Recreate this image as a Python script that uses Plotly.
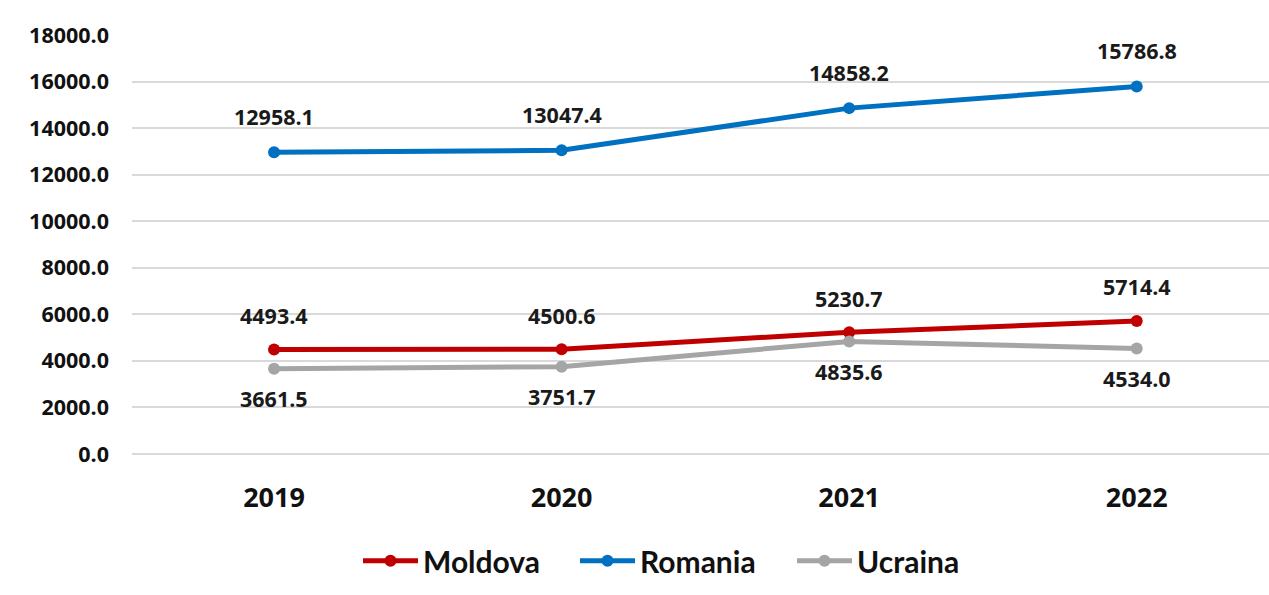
import plotly.graph_objects as go

years = ["2019", "2020", "2021", "2022"]
moldova = [4493.4, 4500.6, 5230.7, 5714.4]
romania = [12958.1, 13047.4, 14858.2, 15786.8]
ucraina = [3661.5, 3751.7, 4835.6, 4534.0]
y_ticks = [0, 2000, 4000, 6000, 8000, 10000, 12000, 14000, 16000, 18000]

series = [
    ("Moldova", moldova, "#C00000", 34),
    ("Romania", romania, "#0070C0", 36),
    ("Ucraina", ucraina, "#A5A5A5", -30),
]

fig = go.Figure()
annots = []
for name, vals, color, shift in series:
    fig.add_trace(go.Scatter(
        x=years, y=vals, name="<b>%s</b>" % name, mode="lines+markers",
        line=dict(color=color, width=5),
        marker=dict(color=color, size=12),
    ))
    for i, v in enumerate(vals):
        annots.append(go.layout.Annotation(
            x=i, y=v, xref="x", yref="y", text="<b>%.1f</b>" % v,
            showarrow=False, yshift=shift,
            font=dict(family="Open Sans", size=21.5, color="#1a1a1a"),
        ))

fig.update_layout(
    annotations=annots,
    width=1269, height=595,
    margin=dict(l=132, r=0, t=35, b=141, autoexpand=False),
    paper_bgcolor="white", plot_bgcolor="white",
    showlegend=True,
    legend=dict(
        orientation="h", xref="container", x=358 / 1269, xanchor="left",
        y=-0.255, yanchor="middle",
        font=dict(family="Lato", size=30, color="#111111"),
        itemwidth=55, entrywidth=147, tracegroupgap=0,
    ),
    xaxis=dict(
        type="category", range=[-0.494, 3.46],
        tickvals=years, ticktext=["<b>%s</b>" % y for y in years],
        showgrid=False, zeroline=False, showline=False, ticks="",
        tickfont=dict(family="Open Sans", size=27, color="#111111"),
        ticklabelstandoff=25,
    ),
    yaxis=dict(
        range=[0, 18000], tickvals=y_ticks,
        ticktext=["<b>%.1f</b>" % v for v in y_ticks],
        showgrid=True, gridcolor="#D9D9D9", gridwidth=2,
        zeroline=True, zerolinecolor="#D9D9D9", zerolinewidth=2,
        showline=False,
        tickfont=dict(family="Open Sans", size=21.5, color="#111111"),
        ticklabelstandoff=22,
    ),
)

fig.write_html(
    "out.html",
    config={"displayModeBar": False},
    post_script="document.body.style.margin='0';document.body.style.overflow='hidden';",
)
